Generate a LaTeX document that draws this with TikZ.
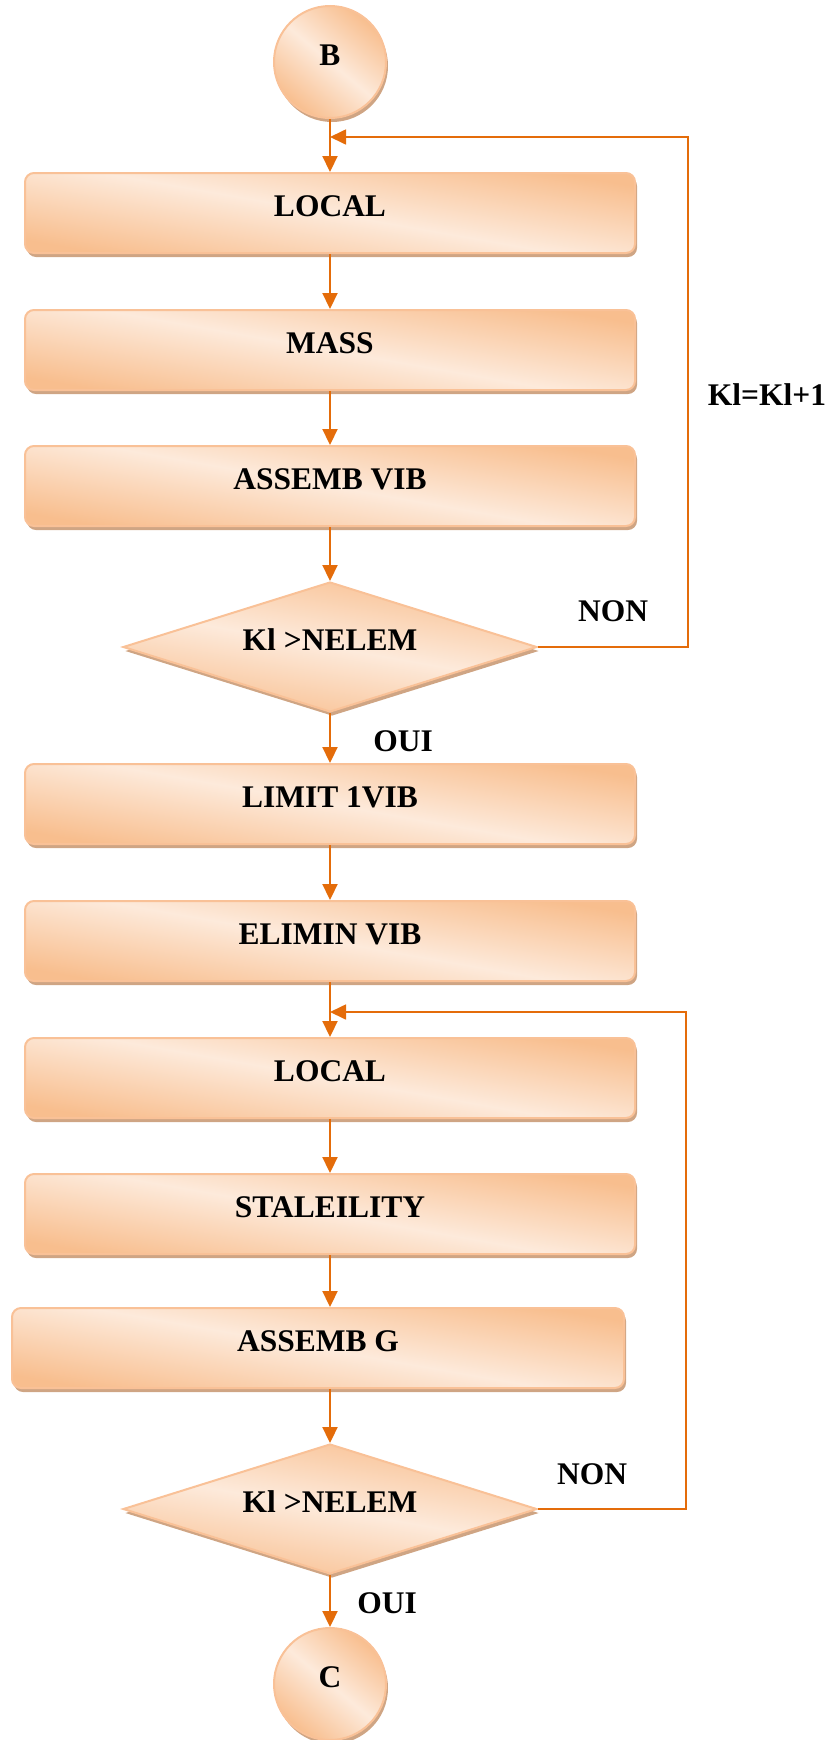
\documentclass[tikz,border=0pt]{standalone}
\usepackage{fontspec}
\setmainfont{Liberation Serif}
\usetikzlibrary{shapes.geometric,arrows.meta,shadows,calc}
\definecolor{flowdark}{HTML}{F8BE8E}
\definecolor{flowlight}{HTML}{FDEADB}
\definecolor{flowedge}{HTML}{F9C197}
\definecolor{flowshadow}{HTML}{CFA584}
\definecolor{arrowcol}{HTML}{E46C0A}
\begin{document}
\begin{tikzpicture}[x=1pt,y=-1pt,
  every node/.style={font=\fontsize{31.5}{36}\selectfont\bfseries},
  shaded/.style={draw=flowedge, line width=2pt,
    top color=flowdark, bottom color=flowdark, middle color=flowlight, shading angle=-10,
    general shadow={fill=flowshadow, shadow xshift=2pt, shadow yshift=-4pt},
    text height=25pt, text depth=19pt, inner sep=0pt},
  stepbox/.style={shaded, rectangle, rounded corners=9pt, minimum width=610pt, minimum height=80pt},
  test/.style={shaded, diamond, aspect=3.2, minimum width=414pt, minimum height=130pt},
  term/.style={shaded, circle, minimum size=112pt, shading angle=-40},
  flow/.style={draw=arrowcol, line width=2.2pt, -{Triangle[length=16pt,width=15pt]}},
  back/.style={draw=arrowcol, line width=1.7pt, -{Triangle[length=16pt,width=15pt]}},
  tag/.style={anchor=base}
]
\useasboundingbox (0,0) rectangle (835,1740);

% flowchart blocks
\node[term] (b) at (330,62) {B};
\node[stepbox] (local1) at (330,213) {LOCAL};
\node[stepbox] (mass) at (330,350) {MASS};
\node[stepbox] (asvib) at (330,486) {ASSEMB VIB};
\node[test] (d1) at (330,647) {Kl >NELEM};
\node[stepbox] (limit) at (330,804) {LIMIT 1VIB};
\node[stepbox] (elim) at (330,941) {ELIMIN VIB};
\node[stepbox] (local2) at (330,1078) {LOCAL};
\node[stepbox] (stab) at (330,1214) {STALEILITY};
\node[stepbox, minimum width=612pt] (asg) at (318,1348) {ASSEMB G};
\node[test] (d2) at (330,1509) {Kl >NELEM};
\node[term] (c) at (330,1684) {C};

% loop junctions
\coordinate (j1) at (330,137);
\coordinate (r1) at (688,137);
\coordinate (j2) at (330,1012);
\coordinate (r2) at (686,1012);

% main flow
\draw[flow] (b) -- (local1);
\draw[flow] (local1) -- (mass);
\draw[flow] (mass) -- (asvib);
\draw[flow] (asvib) -- (d1);
\draw[flow] (d1) -- (limit);
\draw[flow] (limit) -- (elim);
\draw[flow] (elim) -- (local2);
\draw[flow] (local2) -- (stab);
\draw[flow] (stab.south) -- (stab.south |- asg.north);
\draw[flow] (asg.south -| d2.north) -- (d2.north);
\draw[flow] (d2) -- (c);

% loops back
\draw[back] (d1.east) -| (r1) -- (j1);
\draw[back] (d2.east) -| (r2) -- (j2);

% labels
\node[tag] (non1) at (613,621) {NON};
\node[tag] (oui1) at (403,751) {OUI};
\node[tag] (non2) at (592,1484) {NON};
\node[tag] (oui2) at (387,1613) {OUI};
\node[tag] (incr) at (767,405) {Kl=Kl+1};
\end{tikzpicture}
\end{document}
